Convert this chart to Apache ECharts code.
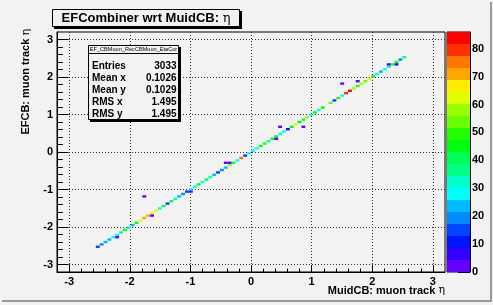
<!DOCTYPE html>
<html>
<head>
<meta charset="utf-8">
<script src="https://cdn.jsdelivr.net/npm/echarts@6/dist/echarts.min.js"></script>
<style>
  html, body { margin: 0; padding: 0; background: #f2f2f2; }
  #main { width: 493px; height: 305px; }
</style>
</head>
<body>
<div id="main"></div>
<script>
    // histogram binning (100 x 100 bins over -3.2 .. 3.2)
    var binLo = -3.2;
    var binW = 0.064;

    // counts on the diagonal, starting at bin 10 (eta ~ -2.5)
    var diagStart = 10;
    var diagCounts = [
      14, 19, 23, 24, 28,  29, 38, 44, 34, 22,
      45, 66, 71, 70, 65,  62, 28, 40, 16, 40,
      31, 22, 20, 16, 26,  29, 45, 29, 40, 33,
      24, 15, 19, 23, 57,  39, 29, 75, 17, 29,
      29, 28, 47, 50, 32,  46, 44, 30, 29, 6,
      44, 62, 46, 42, 56,  30, 44, 29, 45, 0,
      53, 15, 49, 30, 80,  86, 60, 49, 57, 55,
      64, 47, 30, 23, 29,  31, 42, 44, 21, 36
    ];
    // off-diagonal cells: [x bin, y bin, count]
    var offDiag = [
      [15, 14, 2], [24, 23, 2], [22, 31, 1], [34, 33, 2], [43, 45, 2], [44, 45, 2],
      [56, 55, 2], [57, 60, 1], [63, 60, 1], [73, 78, 1], [77, 79, 1], [85, 86, 2], [87, 86, 5]
    ];

    var majorTicks = [-3, -2, -1, 0, 1, 2, 3];
    var paletteTicks = [0, 10, 20, 30, 40, 50, 60, 70, 80];
    var zMax = 86;
    var statsNames = ['Entries', 'Mean x', 'Mean y', 'RMS x', 'RMS y'];
    var statsValues = ['3033', '0.1026', '0.1029', '1.495', '1.495'];

    // ROOT pretty palette, 20 contour levels
    var palette = ['#6300ff', '#3300ff', '#0014ff', '#0044ff', '#008bff', '#00bbff', '#00fffc',
      '#00ffcc', '#00ff85', '#00ff55', '#00ff0e', '#22ff00', '#69ff00', '#99ff00', '#e0ff00',
      '#ffee00', '#ffa700', '#ff7700', '#ff3000', '#ff0000'];

    var minorTicks = [];
    majorTicks.slice(0, -1).forEach(function (m) {
      for (var k = 1; k < 5; k++) minorTicks.push(+(m + 0.2 * k).toFixed(1));
    });

    var cells = [];
    diagCounts.forEach(function (n, k) {
      var e = binLo + (diagStart + k) * binW;
      if (n > 0) cells.push([e, e, n]);
    });
    offDiag.forEach(function (c) {
      cells.push([binLo + c[0] * binW, binLo + c[1] * binW, c[2]]);
    });

    var dz = zMax / palette.length;
    var pieces = palette.map(function (col, k) {
      var p = { gte: k * dz, lt: (k + 1) * dz, color: col };
      if (k === palette.length - 1) { delete p.lt; p.lte = zMax + 1; }
      return p;
    });
    var bands = palette.map(function (col, k) { return [k * dz, (k + 1) * dz]; });

    var FONT = 'Liberation Sans, Arial, sans-serif';
    var labelStyle = { color: '#000', fontSize: 11, fontWeight: 'bold', fontFamily: FONT };

    var chart = echarts.init(document.getElementById('main'));

    var option = {
      animation: false,
      backgroundColor: '#f2f2f2',
      textStyle: { fontFamily: FONT },
      grid: [
        { left: 57, top: 32, width: 388, height: 240, show: true, borderColor: '#000', borderWidth: 1,
          backgroundColor: 'transparent', outerBoundsMode: 'none' },
        { left: 447, top: 32, width: 23, height: 240, show: true, borderColor: '#000', borderWidth: 1,
          backgroundColor: 'transparent', outerBoundsMode: 'none' }
      ],
      visualMap: {
        type: 'piecewise', show: false, seriesIndex: 0, dimension: 2, pieces: pieces
      },
      xAxis: [
        {
          gridIndex: 0, type: 'value', min: -3.2, max: 3.2, position: 'bottom',
          axisLine: { show: true, onZero: false, lineStyle: { color: '#000' } },
          axisTick: { show: true, inside: true, length: 7, customValues: majorTicks, lineStyle: { color: '#000' } },
          axisLabel: Object.assign({ customValues: majorTicks, margin: 4 }, labelStyle),
          splitLine: { show: true, lineStyle: { color: '#333', type: [1, 2] } }
        },
        {
          gridIndex: 0, type: 'value', min: -3.2, max: 3.2, position: 'bottom',
          axisLine: { show: false, onZero: false },
          axisTick: { show: true, inside: true, length: 3.5, customValues: minorTicks, lineStyle: { color: '#000' } },
          axisLabel: { show: false }, splitLine: { show: false }
        },
        { gridIndex: 1, type: 'value', min: 0, max: 1, show: false }
      ],
      yAxis: [
        {
          gridIndex: 0, type: 'value', min: -3.2, max: 3.2, position: 'left',
          axisLine: { show: true, onZero: false, lineStyle: { color: '#000' } },
          axisTick: { show: true, inside: true, length: 11.6, customValues: majorTicks, lineStyle: { color: '#000' } },
          axisLabel: Object.assign({ customValues: majorTicks, margin: 4 }, labelStyle),
          splitLine: { show: true, lineStyle: { color: '#333', type: [1, 2] } }
        },
        {
          gridIndex: 0, type: 'value', min: -3.2, max: 3.2, position: 'left',
          axisLine: { show: false, onZero: false },
          axisTick: { show: true, inside: true, length: 5.8, customValues: minorTicks, lineStyle: { color: '#000' } },
          axisLabel: { show: false }, splitLine: { show: false }
        },
        {
          gridIndex: 1, type: 'value', min: 0, max: zMax, position: 'right',
          axisLine: { show: true, onZero: false, lineStyle: { color: '#000' } },
          axisTick: { show: true, inside: true, length: 12, customValues: paletteTicks, lineStyle: { color: '#000' } },
          axisLabel: Object.assign({ customValues: paletteTicks, margin: 2 }, labelStyle),
          splitLine: { show: false }
        }
      ],
      series: [
        {
          type: 'custom', xAxisIndex: 0, yAxisIndex: 0,
          data: cells, encode: { x: 0, y: 1 },
          renderItem: function (params, api) {
            var p = api.coord([api.value(0), api.value(1) + binW]);
            var s = api.size([binW, binW]);
            return { type: 'rect', shape: { x: p[0], y: p[1], width: s[0], height: s[1] },
              style: { fill: api.visual('color') } };
          }
        },
        {
          type: 'custom', xAxisIndex: 2, yAxisIndex: 2,
          data: bands, encode: { y: [0, 1] },
          renderItem: function (params, api) {
            var a = api.coord([0, api.value(1)]);
            var b = api.coord([1, api.value(0)]);
            return { type: 'rect', shape: { x: a[0], y: a[1], width: b[0] - a[0], height: b[1] - a[1] },
              style: { fill: palette[params.dataIndex] } };
          }
        }
      ],
      graphic: [
        // canvas bevel
        { type: 'rect', z: 100, shape: { x: 2, y: 300, width: 490, height: 2 }, style: { fill: '#9a9a9a' } },
        { type: 'rect', z: 100, shape: { x: 490, y: 2, width: 2, height: 300 }, style: { fill: '#9a9a9a' } },
        // title box
        { type: 'rect', z: 100, shape: { x: 54, y: 11, width: 188, height: 18 }, style: { fill: '#000' } },
        { type: 'rect', z: 101, shape: { x: 52.5, y: 9.5, width: 187, height: 17 },
          style: { fill: '#f2f2f2', stroke: '#000', lineWidth: 1 } },
        { type: 'text', z: 102, x: 146, y: 18.5,
          style: { text: '{b|EFCombiner wrt MuidCB: }{g|η}', align: 'center', verticalAlign: 'middle',
            rich: { b: { fontSize: 13, fontWeight: 'bold', fontFamily: FONT, fill: '#000' },
                    g: { fontSize: 13, fontFamily: 'DejaVu Serif, serif', fill: '#000' } } } },
        // stats box
        { type: 'rect', z: 100, shape: { x: 90, y: 47, width: 91, height: 75 }, style: { fill: '#000' } },
        { type: 'rect', z: 101, shape: { x: 88.5, y: 45.5, width: 90, height: 74 },
          style: { fill: '#f2f2f2', stroke: '#000', lineWidth: 1 } },
        { type: 'line', z: 102, shape: { x1: 88.5, y1: 53.5, x2: 178.5, y2: 53.5 }, style: { stroke: '#000', lineWidth: 1 } },
        { type: 'text', z: 102, x: 133.5, y: 49.8,
          style: { text: 'EF_CBMuon_RecCBMuon_EtaCor', align: 'center', verticalAlign: 'middle',
            fontSize: 5.6, fontFamily: FONT, fill: '#000' } }
      ].concat(statsNames.map(function (nm, i) {
        return { type: 'text', z: 102, x: 92, y: 66 + i * 12,
          style: { text: nm, align: 'left', verticalAlign: 'middle', fontSize: 10, fontWeight: 'bold',
            fontFamily: FONT, fill: '#000' } };
      })).concat(statsValues.map(function (v, i) {
        return { type: 'text', z: 102, x: 176.5, y: 66 + i * 12,
          style: { text: v, align: 'right', verticalAlign: 'middle', fontSize: 10, fontWeight: 'bold',
            fontFamily: FONT, fill: '#000' } };
      })).concat([
        // axis titles
        { type: 'text', z: 102, x: 445, y: 290.5,
          style: { text: '{b|MuidCB: muon track }{g|η}', align: 'right', verticalAlign: 'middle',
            rich: { b: { fontSize: 11, fontWeight: 'bold', fontFamily: FONT, fill: '#000' },
                    g: { fontSize: 11, fontFamily: 'DejaVu Serif, serif', fill: '#000' } } } },
        { type: 'text', z: 102, x: 26, y: 29, rotation: Math.PI / 2,
          style: { text: '{b|EFCB: muon track }{g|η}', align: 'right', verticalAlign: 'middle',
            rich: { b: { fontSize: 11, fontWeight: 'bold', fontFamily: FONT, fill: '#000' },
                    g: { fontSize: 11, fontFamily: 'DejaVu Serif, serif', fill: '#000' } } } }
      ])
    };

    chart.setOption(option);

    window.addEventListener('resize', function () {
      chart.resize();
    });
</script>
</body>
</html>
